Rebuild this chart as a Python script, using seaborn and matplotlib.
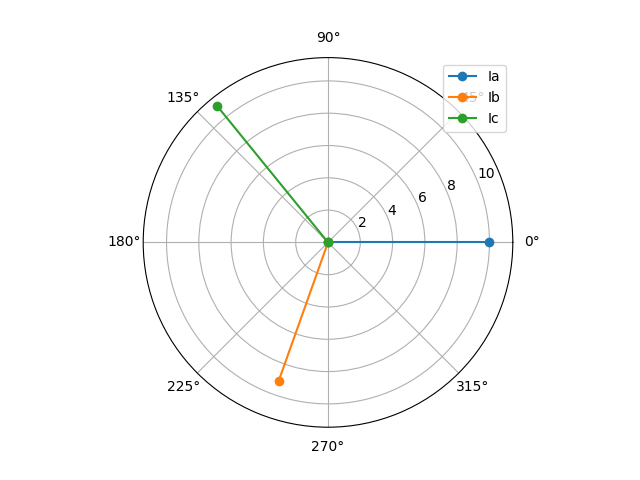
import numpy as np
import seaborn as sns
import matplotlib
matplotlib.use("Agg")
import matplotlib.pyplot as plt

phases = ["Ia", "Ib", "Ic"]
magnitudes = [10.0, 9.1, 10.9]
angles_deg = [0.0, 250.4, 129.1]
colors = ["#1f77b4", "#ff7f0e", "#2ca02c"]

fig = plt.figure(figsize=(6.4, 4.8), dpi=100)
ax = fig.add_subplot(111, projection="polar")

for name, mag, ang, c in zip(phases, magnitudes, angles_deg, colors):
    theta = [0.0, np.deg2rad(ang)]
    r = [0.0, mag]
    sns.lineplot(x=theta, y=r, ax=ax, color=c, marker="o", markersize=7,
                 markeredgewidth=0, sort=False, label=name, estimator=None)

ax.set_xlabel("")
ax.set_ylabel("")
ax.legend(loc="upper right")

fig.savefig("out.png")
